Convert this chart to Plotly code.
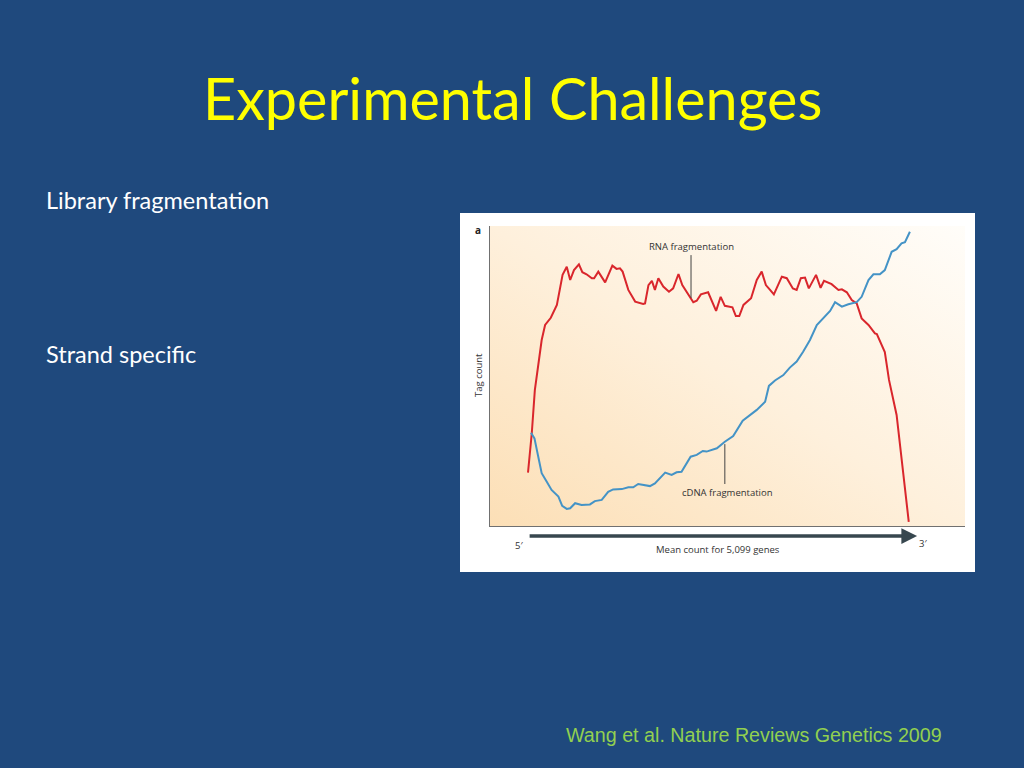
import base64
import plotly.graph_objects as go

# ---- data (position along transcript 0=5' .. 100=3', tag count arbitrary units) ----
rna_x = [0.0, 1.0, 1.8, 2.7, 3.6, 4.5, 6.0, 7.6, 9.1, 10.2, 11.1, 12.1, 13.4, 14.3, 15.4, 16.8,
         17.4, 18.5, 20.3, 22.2, 23.3, 24.2, 24.9, 26.4, 28.2, 30.3, 30.8, 31.7, 32.6, 33.4, 34.3,
         35.6, 37.1, 38.2, 39.6, 40.6, 42.2, 43.5, 44.4, 45.5, 47.4, 49.5, 50.7, 51.8, 53.8, 54.7,
         55.6, 56.7, 58.7, 60.2, 61.5, 62.6, 63.7, 64.7, 66.8, 68.1, 69.7, 70.7, 71.8, 72.9, 73.9,
         75.8, 77.0, 77.9, 79.9, 81.7, 82.6, 83.9, 85.2, 86.5, 87.8, 89.6, 91.3, 91.8, 93.9, 95.0,
         97.0, 100.2]
rna_y = [17.8, 31.0, 45.3, 54.3, 62.0, 67.0, 69.4, 73.7, 83.7, 86.4, 82.0, 85.3, 87.2, 84.6, 83.9, 82.6,
         82.6, 84.8, 81.2, 86.8, 85.7, 85.9, 84.8, 78.7, 74.8, 74.0, 74.2, 80.3, 81.7, 78.7, 82.6,
         79.8, 78.1, 79.2, 84.0, 80.3, 77.2, 74.6, 75.1, 77.2, 77.9, 71.7, 76.4, 73.4, 72.9, 70.0,
         70.0, 73.7, 75.9, 82.0, 84.8, 80.3, 78.7, 77.2, 83.1, 82.6, 79.2, 78.7, 82.6, 82.8, 79.2,
         83.7, 79.4, 81.7, 80.6, 78.7, 78.9, 77.9, 75.3, 74.2, 69.2, 67.0, 64.2, 64.0, 58.0, 48.7,
         37.0, 1.4]

cdna_x = [0.8, 1.7, 2.7, 3.6, 4.9, 6.2, 8.0, 9.0, 10.2, 11.1, 12.4, 14.1, 16.3, 17.6, 19.4, 21.1,
          22.4, 24.7, 26.4, 27.7, 29.0, 30.8, 32.1, 33.4, 36.1, 37.8, 39.1, 40.4, 42.8, 44.4, 46.0,
          47.0, 49.7, 51.8, 54.0, 56.5, 58.4, 60.2, 62.4, 63.4, 65.0, 67.2, 68.9, 70.7, 72.4, 74.2,
          76.0, 77.7, 79.5, 80.8, 82.6, 84.3, 86.5, 87.8, 89.6, 90.9, 92.6, 93.9, 95.7, 97.0, 98.3,
          99.2, 100.5]
cdna_y = [31.1, 29.2, 23.1, 17.6, 14.8, 12.0, 9.8, 6.7, 5.7, 5.9, 7.6, 7.0, 7.2, 8.3, 8.7, 11.4,
          12.2, 12.3, 12.9, 12.9, 14.0, 13.7, 13.3, 14.2, 17.8, 17.0, 17.9, 18.1, 23.1, 23.7, 25.0,
          24.8, 25.9, 28.1, 30.0, 35.1, 37.0, 38.7, 41.4, 46.7, 48.5, 50.3, 52.8, 54.8, 58.1, 62.0,
          67.0, 69.2, 71.7, 74.6, 73.1, 73.9, 74.6, 76.4, 82.0, 83.9, 83.9, 85.3, 91.4, 92.3, 94.2,
          94.6, 98.1]

title_text = "Experimental Challenges"
bullets = ["Library fragmentation", "Strand specific"]
citation = "Wang et al. Nature Reviews Genetics 2009"
x_label = "Mean count for 5,099 genes"
y_label = "Tag count"
rna_label = "RNA fragmentation"
cdna_label = "cDNA fragmentation"

W, H = 1024, 768
BG = "#1F497D"

def px(x):
    return x / W

def py(y):
    return 1 - y / H

# background panel (white card + soft peach gradient plot area) as an SVG image
svg = (
    '<svg xmlns="http://www.w3.org/2000/svg" width="515" height="359" viewBox="0 0 515 359" '
    'preserveAspectRatio="none">'
    '<defs><linearGradient id="g" x1="0" y1="1" x2="1" y2="0">'
    '<stop offset="0" stop-color="#FCDFB6"/>'
    '<stop offset="0.5" stop-color="#FEF0DC"/>'
    '<stop offset="1" stop-color="#FFFDF9"/>'
    '</linearGradient></defs>'
    '<rect x="0" y="0" width="515" height="359" fill="#FFFFFF"/>'
    '<rect x="30" y="13" width="475" height="300" fill="url(#g)"/>'
    '</svg>'
)
svg_uri = "data:image/svg+xml;base64," + base64.b64encode(svg.encode()).decode()

fig = go.Figure()
fig.add_trace(go.Scatter(x=rna_x, y=rna_y, mode="lines",
                         line=dict(color="#D9262C", width=2), hoverinfo="skip", showlegend=False))
fig.add_trace(go.Scatter(x=cdna_x, y=cdna_y, mode="lines",
                         line=dict(color="#4493C6", width=2), hoverinfo="skip", showlegend=False))

fig.update_layout(
    width=W, height=H,
    margin=dict(l=0, r=0, t=0, b=0),
    paper_bgcolor=BG,
    plot_bgcolor="rgba(0,0,0,0)",
    xaxis=dict(domain=[px(490), px(965)], range=[-10, 115], showgrid=False, zeroline=False,
               showticklabels=False, ticks="", showline=True, linecolor="#707070", linewidth=1.2,
               fixedrange=True),
    yaxis=dict(domain=[py(526), py(226)], range=[0, 100], showgrid=False, zeroline=False,
               showticklabels=False, ticks="", showline=True, linecolor="#707070", linewidth=1.2,
               fixedrange=True),
    images=[dict(source=svg_uri, xref="paper", yref="paper", x=px(460), y=py(213),
                 sizex=px(975) - px(460), sizey=py(213) - py(572), sizing="stretch",
                 xanchor="left", yanchor="top", layer="below")],
)

small = dict(family="Open Sans", size=9.5, color="#333333")
ann = []
# slide texts
ann.append(dict(text=title_text, xref="paper", yref="paper", x=px(512), y=py(97),
                xanchor="center", yanchor="middle", showarrow=False,
                font=dict(family="Lato", size=57.5, color="#FFFF00")))
ann.append(dict(text=bullets[0], xref="paper", yref="paper", x=px(44), y=py(200),
                xanchor="left", yanchor="middle", showarrow=False,
                font=dict(family="Lato", size=23.5, color="#FFFFFF")))
ann.append(dict(text=bullets[1], xref="paper", yref="paper", x=px(44), y=py(354),
                xanchor="left", yanchor="middle", showarrow=False,
                font=dict(family="Lato", size=23.5, color="#FFFFFF")))
ann.append(dict(text=citation, xref="paper", yref="paper", x=px(944), y=py(735),
                xanchor="right", yanchor="middle", showarrow=False,
                font=dict(family="Liberation Sans", size=19.7, color="#92D050")))
# chart texts
ann.append(dict(text="<b>a</b>", xref="paper", yref="paper", x=px(473), y=py(230),
                xanchor="left", yanchor="middle", showarrow=False,
                font=dict(family="Open Sans", size=10, color="#222222")))
ann.append(dict(text=y_label, xref="paper", yref="paper", x=px(478), y=py(375),
                xanchor="center", yanchor="middle", showarrow=False, textangle=-90,
                font=small))
ann.append(dict(text=x_label, xref="x", yref="paper", x=50, y=py(549),
                xanchor="center", yanchor="middle", showarrow=False, font=small))
ann.append(dict(text="5′", xref="paper", yref="paper", x=px(519), y=py(545),
                xanchor="center", yanchor="middle", showarrow=False, font=small))
ann.append(dict(text="3′", xref="paper", yref="paper", x=px(923), y=py(543),
                xanchor="center", yanchor="middle", showarrow=False, font=small))
# long 5'->3' arrow
ann.append(dict(text="", xref="x", yref="paper", x=102.4, y=py(536),
                ax=-389, ay=0, showarrow=True, arrowhead=2, arrowsize=0.9,
                arrowwidth=3.5, arrowcolor="#37474F"))
# curve labels with leader lines
ann.append(dict(text=rna_label, xref="x", yref="y", x=42.9, y=93.0,
                xanchor="center", yanchor="middle", showarrow=False, font=small))
ann.append(dict(text=cdna_label, xref="x", yref="y", x=52.5, y=11.3,
                xanchor="center", yanchor="middle", showarrow=False, font=small))
fig.update_layout(annotations=ann)

fig.add_shape(type="line", xref="x", yref="y", x0=42.9, x1=42.9, y0=76.0, y1=90.3,
              line=dict(color="#444444", width=1))
fig.add_shape(type="line", xref="x", yref="y", x0=51.8, x1=51.8, y0=14.0, y1=27.3,
              line=dict(color="#444444", width=1))

fig.write_html(
    "out.html",
    config={"displayModeBar": False, "staticPlot": True},
    post_script="document.body.style.margin='0';document.body.style.overflow='hidden';"
                "document.body.style.background='" + BG + "';",
)
